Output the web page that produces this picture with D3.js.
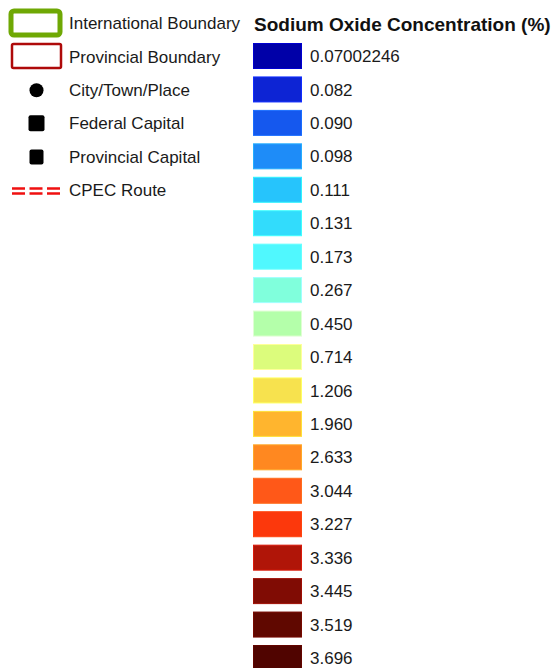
<!DOCTYPE html>
<html>
<head>
<meta charset="utf-8">
<script src="https://cdn.jsdelivr.net/npm/d3@7"></script>
<style>
  body { margin: 0; background: #fff; }
  svg { display: block; font-family: "Liberation Sans", Arial, sans-serif; }
</style>
</head>
<body>
<svg id="legend" width="556" height="668"></svg>
<script>
// map symbol legend (left column)
var symbolNames = ["International Boundary", "Provincial Boundary", "City/Town/Place",
  "Federal Capital", "Provincial Capital", "CPEC Route"];
var symbolTypes = ["intl", "prov", "city", "fedcap", "provcap", "route"];

// sodium oxide classes (right column)
var classLabels = ["0.07002246", "0.082", "0.090", "0.098", "0.111", "0.131", "0.173",
  "0.267", "0.450", "0.714", "1.206", "1.960", "2.633", "3.044", "3.227", "3.336",
  "3.445", "3.519", "3.696"];
var classColors = ["#0000a8", "#0d24d4", "#1558ee", "#1e8cf8", "#26c4fc", "#32dcfc",
  "#50f8fe", "#80ffdc", "#b4ffaa", "#dcfc7c", "#f7e24e", "#ffb52e", "#ff8820",
  "#ff5818", "#fc380c", "#b01508", "#800c04", "#600800", "#500400"];

const svg = d3.select("#legend");

// rows are spaced evenly
var rowY = d3.scaleLinear().domain([0, classLabels.length - 1]).range([43, 645]);
var symY = d3.scaleLinear().domain([0, symbolNames.length - 1]).range([23, 190]);

// title
svg.append("text")
  .attr("x", 254)
  .attr("y", 31)
  .attr("font-size", "19px")
  .attr("font-weight", "bold")
  .attr("fill", "#111")
  .text("Sodium Oxide Concentration (%)");

// colour swatches
var rows = svg.append("g")
  .selectAll("g")
  .data(classLabels)
  .join("g")
  .attr("transform", (d, i) => "translate(0," + rowY(i) + ")");

rows.append("rect")
  .attr("x", 253.5)
  .attr("y", 0.5)
  .attr("width", 48)
  .attr("height", 25)
  .attr("fill", (d, i) => classColors[i])
  .attr("stroke", (d, i) => d3.color(classColors[i]).brighter(0.6))
  .attr("stroke-width", 1);

rows.append("text")
  .attr("x", 310)
  .attr("y", 13)
  .attr("dy", "0.36em")
  .attr("font-size", "17px")
  .attr("fill", "#1a1a1a")
  .text(d => d);

// symbol legend
var sym = svg.append("g")
  .selectAll("g")
  .data(symbolNames)
  .join("g")
  .attr("transform", (d, i) => "translate(0," + symY(i) + ")");

sym.append("text")
  .attr("x", 69)
  .attr("dy", "0.36em")
  .attr("font-size", "17px")
  .attr("fill", "#1a1a1a")
  .text(d => d);

sym.each(function (d, i) {
  var g = d3.select(this);
  var t = symbolTypes[i];
  if (t === "intl") {
    g.append("rect").attr("x", 11).attr("y", -12).attr("width", 49).attr("height", 24)
      .attr("rx", 3).attr("fill", "none").attr("stroke", "#6fa804").attr("stroke-width", 5);
  } else if (t === "prov") {
    g.append("rect").attr("x", 12).attr("y", -12.5).attr("width", 49).attr("height", 24)
      .attr("rx", 1.5).attr("fill", "none").attr("stroke", "#ae0a0a").attr("stroke-width", 2.5);
  } else if (t === "city") {
    g.append("circle").attr("cx", 36.5).attr("cy", 0.5).attr("r", 7).attr("fill", "#000");
  } else if (t === "fedcap") {
    g.append("rect").attr("x", 28.5).attr("y", -8).attr("width", 16).attr("height", 16)
      .attr("rx", 2).attr("fill", "#000");
  } else if (t === "provcap") {
    g.append("rect").attr("x", 29.5).attr("y", -7).attr("width", 14).attr("height", 15)
      .attr("rx", 2).attr("fill", "#000");
  } else if (t === "route") {
    [-1.5, 3.5].forEach(function (dy) {
      g.append("line").attr("x1", 12).attr("x2", 60).attr("y1", dy).attr("y2", dy)
        .attr("stroke", "#f01010").attr("stroke-width", 2.3)
        .attr("stroke-dasharray", "13,4.5");
    });
  }
});
</script>
</body>
</html>
